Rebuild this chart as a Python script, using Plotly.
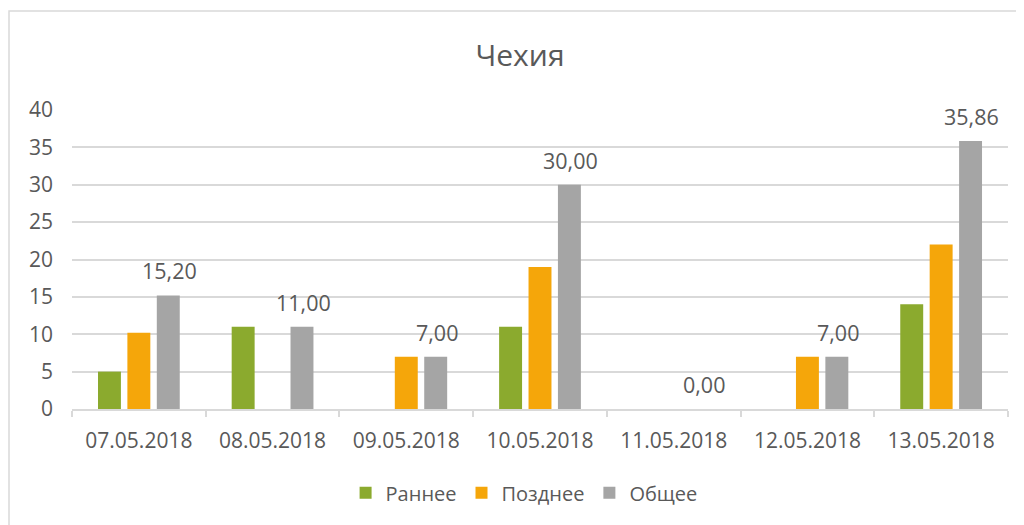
import plotly.graph_objects as go

categories = ["07.05.2018", "08.05.2018", "09.05.2018", "10.05.2018",
              "11.05.2018", "12.05.2018", "13.05.2018"]
early = [5, 11, 0, 11, 0, 0, 14]
late = [10.2, 0, 7, 19, 0, 7, 22]
total = [15.2, 11, 7, 30, 0, 7, 35.86]
series_names = ["Раннее", "Позднее", "Общее"]
colors = ["#8BAA2E", "#F5A60A", "#A5A5A5"]
y_ticks = [0, 5, 10, 15, 20, 25, 30, 35, 40]

TXT = "#595959"
FONT = "Open Sans"
GRID = "#D9D9D9"

fig = go.Figure()
for name, vals, col in zip(series_names, [early, late, total], colors):
    fig.add_trace(go.Bar(x=categories, y=vals, name=name, marker_color=col,
                         marker_line_width=0))

# data labels on the "Общее" series (third bar of each group)
for c, v in zip(categories, total):
    fig.add_annotation(x=c, y=v, xref="x", yref="y",
                       text=f"{v:.2f}".replace(".", ","),
                       showarrow=False, xshift=30.6, yshift=8,
                       yanchor="bottom", font=dict(family=FONT, size=21.5, color=TXT))

# outer chart border
fig.add_shape(type="rect", xref="paper", yref="paper",
              x0=-0.0673, x1=1.03, y0=-0.42, y1=1.331,
              line=dict(color=GRID, width=1.5), fillcolor="rgba(0,0,0,0)", layer="below")

fig.update_layout(
    width=1024, height=525,
    margin=dict(l=64, r=24, t=102, b=124),
    paper_bgcolor="white", plot_bgcolor="white",
    font=dict(family=FONT, size=20, color=TXT),
    title=dict(text="Чехия", x=0.5, xanchor="center", y=1 - 47 / 525, yanchor="middle",
               xref="container", font=dict(family=FONT, size=30, color=TXT)),
    barmode="group", bargap=0.34, bargroupgap=0.22,
    showlegend=True,
    legend=dict(orientation="h", x=0.483, xanchor="center", y=-0.28, yanchor="middle",
                font=dict(family=FONT, size=20, color=TXT), itemwidth=30,
                traceorder="normal"),
    xaxis=dict(type="category", tickson="boundaries", ticks="outside", ticklen=6,
               tickcolor=GRID, tickwidth=1.5, showline=True, linecolor=GRID, linewidth=1.5,
               showgrid=False, tickfont=dict(family=FONT, size=21, color=TXT),
               ticklabelstandoff=12),
    yaxis=dict(range=[0, 40], tickvals=y_ticks, showgrid=True, gridcolor=GRID, gridwidth=1.5,
               zeroline=False, showline=False, ticks="",
               tickfont=dict(family=FONT, size=21, color=TXT), ticklabelstandoff=18),
)

fig.write_html("out.html")
